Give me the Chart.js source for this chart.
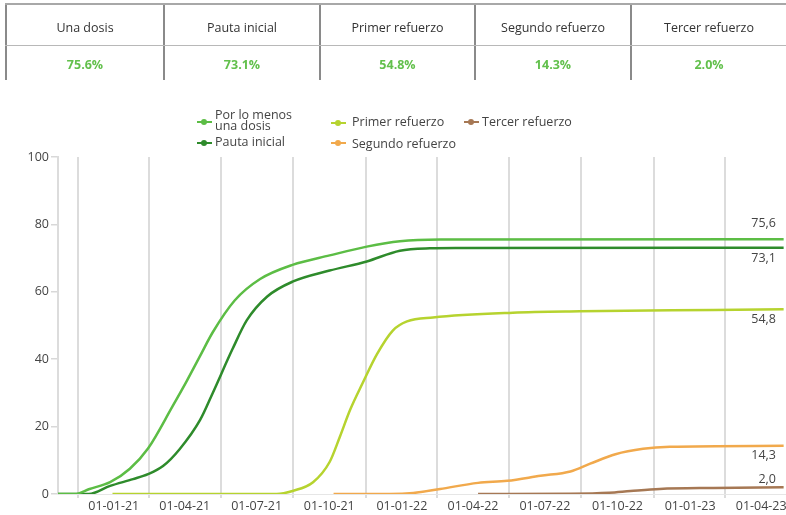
<!DOCTYPE html>
<html>
<head>
<meta charset="utf-8">
<script src="https://cdn.jsdelivr.net/npm/chart.js@4/dist/chart.umd.min.js"></script>
<style>
  html, body { margin: 0; padding: 0; background: #fff; }
  #wrap { position: relative; width: 786px; height: 515px; overflow: hidden; font-family: "Open Sans", sans-serif; }
  #chart { position: absolute; left: 0; top: 0; }
  #summary { position: absolute; left: 5px; top: 3px; width: 781px; height: 77px; border-top: 2px solid #a8a8a8; }
  #summary .col { position: absolute; top: 0; height: 75px; border-left: 2px solid #8a8a8a; box-sizing: border-box; }
  #summary .hdr { position: absolute; left: 0; right: 0; top: 14px; text-align: center; font-size: 12.5px; color: #333; }
  #summary .val { position: absolute; left: 0; right: 0; top: 51px; text-align: center; font-size: 12.5px; font-weight: bold; color: #62c04c; }
  #summary .sep { position: absolute; left: 0; width: 781px; top: 40px; border-top: 1px solid #b8b8b8; }
  .lg { position: absolute; font-size: 12.5px; color: #444; line-height: 11px; white-space: nowrap; }
  .mk { position: absolute; width: 15px; height: 8px; }
  .mk .ln { position: absolute; left: 0; top: 3px; width: 15px; height: 2px; }
  .mk .dt { position: absolute; left: 4px; top: 1px; width: 6px; height: 6px; border-radius: 50%; }
</style>
</head>
<body>
<div id="wrap">
  <canvas id="chart" width="786" height="515"></canvas>
  <div id="summary"></div>
  <div id="legend"></div>
</div>
<script>
// ---- data ----
const seriesNames = ["Por lo menos una dosis", "Pauta inicial", "Primer refuerzo", "Segundo refuerzo", "Tercer refuerzo"];
const tableHeaders = ["Una dosis", "Pauta inicial", "Primer refuerzo", "Segundo refuerzo", "Tercer refuerzo"];
const xTickDates = ["2021-01-01","2021-04-01","2021-07-01","2021-10-01","2022-01-01","2022-04-01","2022-07-01","2022-10-01","2023-01-01","2023-04-01"];
const yTicks = [0, 20, 40, 60, 80, 100];

const unaDosisDates  = ["2020-12-07","2020-12-28","2021-01-16","2021-02-11","2021-03-08","2021-03-31","2021-05-01","2021-05-19","2021-06-05","2021-06-21","2021-07-19","2021-08-20","2021-09-30","2021-11-16","2022-01-02","2022-02-13","2022-04-05","2023-06-14"];
const unaDosisValues = [0, 0, 1.5, 3.5, 7.5, 13.5, 26, 33.5, 41, 48, 57.5, 63.8, 68, 70.8, 73.4, 75.0, 75.5, 75.6];

const pautaDates  = ["2020-12-07","2021-01-15","2021-02-11","2021-03-12","2021-03-31","2021-04-19","2021-05-10","2021-06-05","2021-06-21","2021-07-16","2021-08-03","2021-08-29","2021-09-30","2021-11-16","2022-01-02","2022-02-13","2022-03-23","2022-04-30","2023-06-14"];
const pautaValues = [0, 0, 2.4, 4.4, 5.9, 8.3, 13.3, 22, 30, 43, 51.5, 58.6, 63, 66.3, 69, 72.2, 72.9, 73.0, 73.1];

const primerDates  = ["2021-02-14","2021-09-10","2021-09-30","2021-10-26","2021-11-16","2021-11-29","2021-12-12","2021-12-28","2022-01-15","2022-02-04","2022-02-22","2022-03-27","2022-07-06","2022-09-29","2023-03-17","2023-06-14"];
const primerValues = [0, 0, 0.9, 3.5, 9.5, 17, 25, 33, 41.5, 48.5, 51.2, 52.4, 53.8, 54.2, 54.6, 54.8];

const segundoDates  = ["2021-11-21","2022-01-31","2022-03-02","2022-04-05","2022-05-23","2022-06-29","2022-08-10","2022-09-17","2022-10-12","2022-11-13","2022-12-18","2023-01-21","2023-06-14"];
const segundoValues = [0, 0, 0.3, 1.5, 3.3, 3.9, 5.4, 6.7, 9, 11.8, 13.4, 14.0, 14.3];

const tercerDates  = ["2022-05-23","2022-09-17","2022-11-05","2022-12-02","2023-01-08","2023-03-17","2023-06-14"];
const tercerValues = [0, 0.1, 0.4, 0.9, 1.5, 1.8, 2.0];

// ---- styles ----
const colors = ["#5cbd45", "#2e8b2b", "#b6d32f", "#f1a94c", "#a67854"];
const endLabelOffsets = [-16, 11, 10, 10, -8];

// ---- helpers ----
const BASE = Date.UTC(2021, 0, 1);
function dayOf(s) { const p = s.split("-").map(Number); return Math.round((Date.UTC(p[0], p[1]-1, p[2]) - BASE) / 86400000); }
function fmtDate(s) { const p = s.split("-"); return p[2] + "-" + p[1] + "-" + p[0].slice(2); }
function pts(dates, vals) { return dates.map((d, i) => ({ x: dayOf(d), y: vals[i] })); }

const allDates = [unaDosisDates, pautaDates, primerDates, segundoDates, tercerDates];
const allValues = [unaDosisValues, pautaValues, primerValues, segundoValues, tercerValues];
const lastValues = allValues.map(v => v[v.length - 1]);

// ---- summary table ----
const summary = document.getElementById("summary");
const colLefts = [0, 158, 314, 469, 625];
tableHeaders.forEach((h, i) => {
  const c = document.createElement("div");
  c.className = "col";
  c.style.left = colLefts[i] + "px";
  c.style.width = ((i < 4 ? colLefts[i+1] : 781) - colLefts[i]) + "px";
  const hd = document.createElement("div"); hd.className = "hdr"; hd.textContent = h;
  const vl = document.createElement("div"); vl.className = "val"; vl.textContent = lastValues[i].toFixed(1) + "%";
  c.appendChild(hd); c.appendChild(vl);
  summary.appendChild(c);
});
const sep = document.createElement("div"); sep.className = "sep"; summary.appendChild(sep);

// ---- legend ----
const legend = document.getElementById("legend");
const legendPos = [
  { mx: 197, my: 118, tx: 215, ty: 109, text: "Por lo menos<br>una dosis" },
  { mx: 197, my: 139, tx: 215, ty: 136, text: null },
  { mx: 331, my: 119, tx: 352, ty: 116, text: null },
  { mx: 331, my: 139, tx: 352, ty: 138, text: null },
  { mx: 464, my: 118, tx: 482, ty: 116, text: null }
];
seriesNames.forEach((n, i) => {
  const p = legendPos[i];
  const m = document.createElement("div");
  m.className = "mk"; m.style.left = p.mx + "px"; m.style.top = p.my + "px";
  m.innerHTML = '<div class="ln" style="background:' + colors[i] + '"></div><div class="dt" style="background:' + colors[i] + '"></div>';
  legend.appendChild(m);
  const t = document.createElement("div");
  t.className = "lg"; t.style.left = p.tx + "px"; t.style.top = p.ty + "px";
  if (p.text) t.innerHTML = p.text; else t.textContent = n;
  legend.appendChild(t);
});

// ---- end labels plugin ----
const endLabels = {
  id: "endLabels",
  afterDatasetsDraw(chart) {
    const ctx = chart.ctx;
    ctx.save();
    ctx.font = "12.5px 'Open Sans', sans-serif";
    ctx.fillStyle = "#444";
    ctx.textAlign = "right";
    ctx.textBaseline = "middle";
    chart.data.datasets.forEach((ds, i) => {
      const last = ds.data[ds.data.length - 1];
      const y = chart.scales.y.getPixelForValue(last.y) + endLabelOffsets[i];
      ctx.fillText(last.y.toFixed(1).replace(".", ","), 776, y);
    });
    ctx.restore();
  }
};

const tickDays = xTickDates.map(dayOf);

new Chart(document.getElementById("chart"), {
  type: "line",
  data: {
    datasets: seriesNames.map((n, i) => ({
      label: n,
      data: pts(allDates[i], allValues[i]),
      borderColor: colors[i],
      backgroundColor: colors[i],
      borderWidth: 2.5,
      pointRadius: 0,
      cubicInterpolationMode: "monotone",
      fill: false
    }))
  },
  options: {
    responsive: false,
    animation: false,
    events: [],
    layout: { padding: { top: 157, left: 0, right: 0, bottom: 0 } },
    plugins: { legend: { display: false }, tooltip: { enabled: false } },
    scales: {
      x: {
        type: "linear",
        min: -25,
        max: 897,
        afterBuildTicks(scale) { scale.ticks = tickDays.map(v => ({ value: v })); },
        ticks: {
          autoSkip: false,
          maxRotation: 0,
          labelOffset: 36,
          padding: 1,
          color: "#444",
          font: { family: "'Open Sans', sans-serif", size: 12.5 },
          callback(v) { const i = tickDays.indexOf(v); return i >= 0 ? fmtDate(xTickDates[i]) : ""; }
        },
        grid: { color: "#dcdcdc", lineWidth: 2, drawTicks: true, tickLength: 4 },
        border: { display: true, color: "#e6e6e6", width: 1 }
      },
      y: {
        min: 0,
        max: 100,
        afterBuildTicks(scale) { scale.ticks = yTicks.map(v => ({ value: v })); },
        afterFit(scale) { scale.width = 58; },
        ticks: {
          padding: 2,
          color: "#444",
          font: { family: "'Open Sans', sans-serif", size: 12.5 }
        },
        grid: { drawOnChartArea: false, drawTicks: true, tickLength: 7, color: "#d8d8d8", lineWidth: 1.5 },
        border: { display: true, color: "#dcdcdc", width: 2 }
      }
    }
  },
  plugins: [endLabels]
});
</script>
</body>
</html>
